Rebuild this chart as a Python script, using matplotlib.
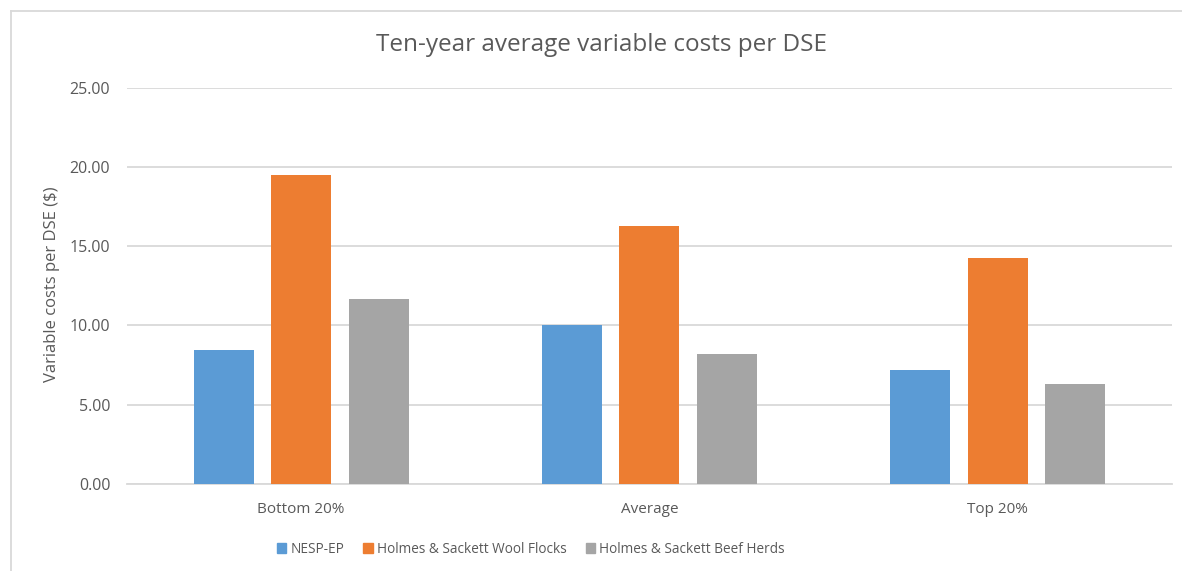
import numpy as np
import matplotlib
matplotlib.use("Agg")
import matplotlib.pyplot as plt
from matplotlib.lines import Line2D
from matplotlib.patches import Patch

plt.rcParams['font.family'] = ['Open Sans', 'DejaVu Sans']

categories = ['Bottom 20%', 'Average', 'Top 20%']
series_names = ['NESP-EP', 'Holmes & Sackett Wool Flocks', 'Holmes & Sackett Beef Herds']
nesp = [8.45, 10.05, 7.22]
wool = [19.48, 16.28, 14.23]
beef = [11.65, 8.20, 6.30]
colors = ['#5B9BD5', '#ED7D31', '#A5A5A5']
yticks = [0, 5, 10, 15, 20, 25]

text_col = '#595959'
grid_col = '#D9D9D9'

fig = plt.figure(figsize=(11.82, 5.71), dpi=100)
ax = fig.add_axes([0.1074, 0.1524, 0.8841, 0.6940])

x = np.arange(len(categories))
width = 0.172
step = 0.2225
for i, (vals, name) in enumerate(zip([nesp, wool, beef], series_names)):
    ax.bar(x + (i - 1) * step, vals, width, color=colors[i], label=name, zorder=3)

ax.set_xlim(-0.5, 2.5)
ax.set_ylim(0, 25)
ax.set_yticks(yticks)
ax.set_yticklabels(['%.2f' % v for v in yticks])
ax.set_xticks(x)
ax.set_xticklabels(categories)
ax.tick_params(axis='y', length=0, colors=text_col, labelsize=11.5, pad=12)
ax.tick_params(axis='x', length=0, colors=text_col, labelsize=11, pad=13)
ax.yaxis.grid(True, color=grid_col, linewidth=1.3, zorder=0)
for s in ['top', 'right', 'left']:
    ax.spines[s].set_visible(False)
ax.spines['bottom'].set_color(grid_col)
ax.spines['bottom'].set_linewidth(1.3)

fig.text(0.0440, 0.502, 'Variable costs per DSE ($)', rotation=90, ha='center', va='center',
         color=text_col, fontsize=12)
fig.text(0.5085, 0.921, 'Ten-year average variable costs per DSE', ha='center', va='center',
         color=text_col, fontsize=17.5)

handles = [Patch(color=c) for c in colors]
fig.legend(handles, series_names, loc='center', bbox_to_anchor=(0.449, 0.0385), ncol=3,
           frameon=False, handlelength=0.7, handleheight=0.7, handletextpad=0.3,
           columnspacing=1.4, labelcolor=text_col, fontsize=9.8)

# chart border (top and left only visible in the crop)
fig.add_artist(Line2D([0.0093, 1.0], [0.9807, 0.9807], transform=fig.transFigure,
                      color=grid_col, linewidth=1.3))
fig.add_artist(Line2D([0.0093, 0.0093], [0.0, 0.9807], transform=fig.transFigure,
                      color=grid_col, linewidth=1.3))

fig.savefig('out.png', dpi=100)
